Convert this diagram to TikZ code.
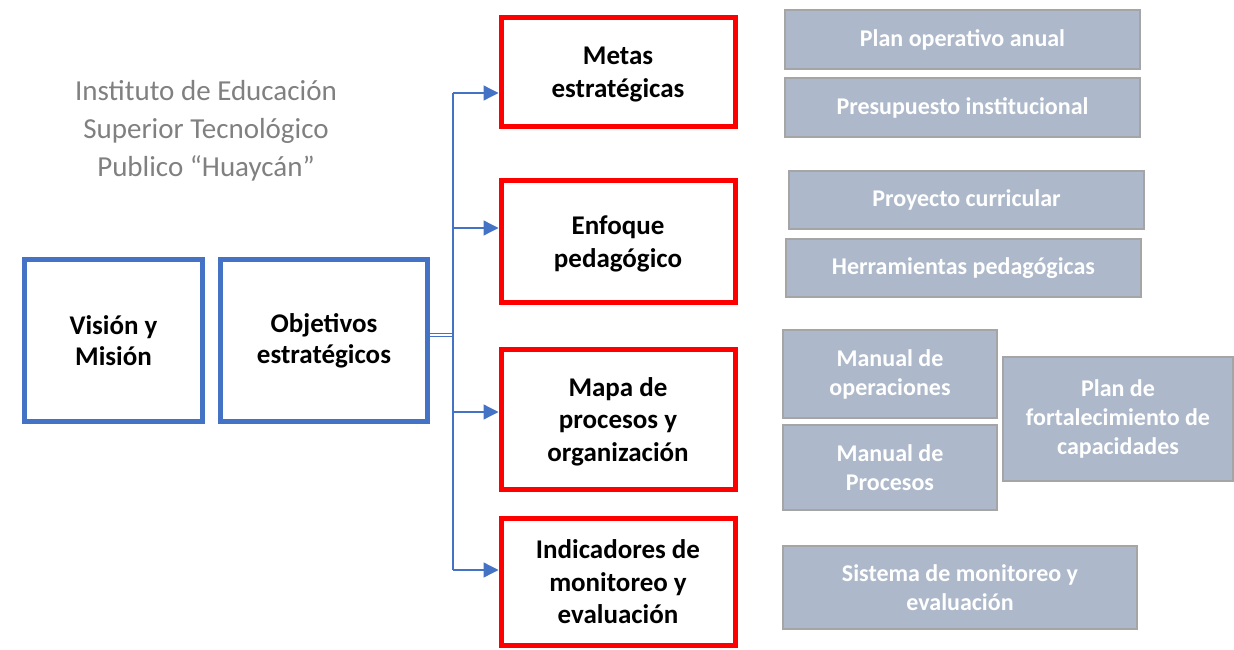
\documentclass[tikz,border=0pt]{standalone}
\usepackage{fontspec}
\setmainfont{Carlito}
\usetikzlibrary{arrows.meta}
\definecolor{azul}{HTML}{4472C4}
\definecolor{rojo}{HTML}{FF0000}
\definecolor{plomo}{HTML}{ADB9CA}
\definecolor{borde}{HTML}{A5A5A5}
\definecolor{titulo}{HTML}{808080}

\begin{document}
\begin{tikzpicture}[x=1pt,y=-1pt,
  caja/.style={draw=azul,line width=5pt,fill=white,align=center,
    font=\fontsize{27}{31}\selectfont\bfseries},
  meta/.style={draw=rojo,line width=5pt,fill=white,align=center,text depth=0pt,
    minimum width=234pt,font=\fontsize{27}{32.5}\selectfont\bfseries},
  gris/.style={draw=borde,line width=2pt,fill=plomo,text=white,align=center,
    font=\fontsize{24}{29}\selectfont\bfseries},
  enlace/.style={draw=azul,line width=1.3pt},
  flecha/.style={enlace,-{Triangle[length=15pt,width=15pt]}}]
\useasboundingbox (0,0) rectangle (1234,650);

\node[text=titulo,align=center,font=\fontsize{29}{38}\selectfont] (ins) at (206,131)
  {Instituto de Educación\\Superior Tecnológico\\Publico “Huaycán”};

\node[caja,minimum width=178pt,minimum height=162pt] (vm) at (113.5,340.5) {Visión y\\Misión};
\node[caja,minimum width=207pt,minimum height=162pt] (obj) at (324,340.5) {Objetivos\\estratégicos};

\node[meta,minimum height=109pt] (met) at (618,72) {Metas\\estratégicas};
\node[meta,minimum height=122pt] (enf) at (618,241.5) {Enfoque\\pedagógico};
\node[meta,minimum height=140pt] (map) at (618,419.5) {Mapa de\\procesos y\\organización};
\node[meta,minimum height=127pt] (ind) at (618,582) {Indicadores de\\monitoreo y\\evaluación};

\node[gris,minimum width=355pt,minimum height=59pt] (poa) at (962.5,39.5) {Plan operativo anual};
\node[gris,minimum width=355pt,minimum height=59pt] (pre) at (962.5,107.5) {Presupuesto institucional};
\node[gris,minimum width=355pt,minimum height=58pt] (pcu) at (966.5,200) {Proyecto curricular};
\node[gris,minimum width=355pt,minimum height=58pt] (her) at (963.5,268) {Herramientas pedagógicas};
\node[gris,minimum width=214pt,minimum height=88pt] (mop) at (890,374) {Manual de\\operaciones};
\node[gris,minimum width=214pt,minimum height=85pt] (mpr) at (890,467.5) {Manual de\\Procesos};
\node[gris,minimum width=230pt,minimum height=124pt] (pfc) at (1118,419) {Plan de\\fortalecimiento de\\capacidades};
\node[gris,minimum width=354pt,minimum height=83pt] (smo) at (960,587.5) {Sistema de monitoreo y\\evaluación};

\coordinate (hub) at (453,335);
\coordinate (arr1) at (453,93);
\coordinate (arr2) at (453,228);
\coordinate (arr3) at (453,412);
\coordinate (arr4) at (453,570);
\draw[enlace,line width=0.8pt,double,double distance=2pt] (hub -| obj.east) -- (hub);
\draw[enlace] (arr1) -- (arr4);
\draw[flecha] (arr1) -- (arr1 -| met.west);
\draw[flecha] (arr2) -- (arr2 -| enf.west);
\draw[flecha] (arr3) -- (arr3 -| map.west);
\draw[flecha] (arr4) -- (arr4 -| ind.west);
\end{tikzpicture}
\end{document}
